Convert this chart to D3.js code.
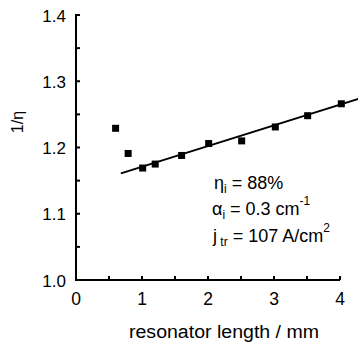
<!DOCTYPE html>
<html><head><meta charset="utf-8">
<script src="https://cdn.jsdelivr.net/npm/d3@7"></script>
<style>body{margin:0;background:#fff}svg{display:block}text{font-family:"Liberation Sans",Arial,sans-serif;fill:#000}</style>
</head><body><svg id="c" width="358" height="342"></svg>
<script>
const lengths = [0.6, 0.79, 1.01, 1.2, 1.6, 2.01, 2.51, 3.02, 3.51, 4.02];
const invEta  = [1.229, 1.191, 1.169, 1.175, 1.188, 1.206, 1.210, 1.231, 1.248, 1.266];
const fitX = [0.68, 4.3];
const fitY = [1.161, 1.274];
const xTicks = [0, 1, 2, 3, 4];
const yTicks = [1.0, 1.1, 1.2, 1.3, 1.4];
const xMinor = [0.5, 1.5, 2.5, 3.5];
const yMinor = [1.05, 1.15, 1.25, 1.35];

const svg = d3.select("#c");
const x = d3.scaleLinear().domain([0, 4]).range([76, 340]);
const y = d3.scaleLinear().domain([1.0, 1.4]).range([280, 15]);

// axes lines
svg.append("path").attr("d", `M${x(0)+4},${y(1.4)}H${x(0)}V${y(1.0)}H${x(4)}`)
  .attr("fill","none").attr("stroke","#000").attr("stroke-width",2);

// ticks (inward)
const yt = [...yTicks, ...yMinor];
svg.selectAll(".yt").data(yt).enter().append("line")
  .attr("x1", x(0)).attr("x2", x(0)+4).attr("y1", d=>y(d)).attr("y2", d=>y(d))
  .attr("stroke","#000").attr("stroke-width",2);
const xt = [...xTicks.slice(1), ...xMinor];
svg.selectAll(".xt").data(xt).enter().append("line")
  .attr("x1", d=>x(d)).attr("x2", d=>x(d)).attr("y1", y(1.0)).attr("y2", y(1.0)-4)
  .attr("stroke","#000").attr("stroke-width",2);

// tick labels
svg.selectAll(".yl").data(yTicks).enter().append("text")
  .attr("x", 66).attr("y", d=>y(d)+6.5).attr("text-anchor","end")
  .attr("font-size",17).text(d=>d3.format(".1f")(d));
svg.selectAll(".xl").data(xTicks).enter().append("text")
  .attr("x", d=>x(d)).attr("y", 305).attr("text-anchor","middle")
  .attr("font-size",17.5).text(d=>d);

// axis titles
svg.append("text").attr("x", 224).attr("y", 337.5).attr("text-anchor","middle")
  .attr("font-size",18).attr("textLength",190).attr("lengthAdjust","spacingAndGlyphs")
  .text("resonator length / mm");
svg.append("text").attr("transform","translate(23,122) rotate(-90)")
  .attr("text-anchor","middle").attr("font-size",16).text("1/η");

// fit line
svg.append("line").attr("x1", x(fitX[0])).attr("y1", y(fitY[0]))
  .attr("x2", x(fitX[1])).attr("y2", y(fitY[1]))
  .attr("stroke","#000").attr("stroke-width",2);

// points
const s = 7;
svg.selectAll(".pt").data(lengths).enter().append("rect")
  .attr("x", d=>x(d)-s/2).attr("y", (d,i)=>y(invEta[i])-s/2)
  .attr("width", s).attr("height", s).attr("fill","#000");

// annotations
const ann = svg.append("g").attr("font-size",18);
let t = ann.append("text").attr("x",214).attr("y",188.5);
t.append("tspan").text("η");
t.append("tspan").attr("font-size",12).attr("dy",4).text("i");
t.append("tspan").attr("dy",-4).text(" = 88%");
t = ann.append("text").attr("x",212).attr("y",215);
t.append("tspan").text("α");
t.append("tspan").attr("font-size",12).attr("dy",4).text("i");
t.append("tspan").attr("dy",-4).text(" = 0.3 cm");
t.append("tspan").attr("font-size",12).attr("dy",-10).text("-1");
t = ann.append("text").attr("x",213).attr("y",242);
t.append("tspan").text("j");
t.append("tspan").attr("font-size",12).attr("dy",4).text(" tr");
t.append("tspan").attr("dy",-4).text(" = 107 A/cm");
t.append("tspan").attr("font-size",12).attr("dy",-10).text("2");
</script></body></html>
